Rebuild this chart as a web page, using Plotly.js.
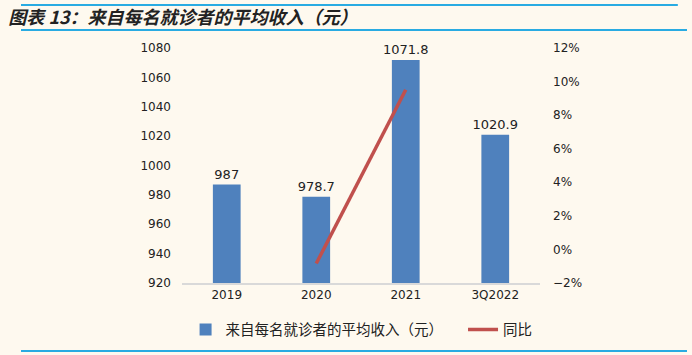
<!DOCTYPE html>
<html>
<head>
<meta charset="utf-8">
<script src="https://cdn.plot.ly/plotly-3.0.1.min.js"></script>
<style>
html,body{margin:0;padding:0;background:#fef9ef;}
#chart{width:692px;height:355px;}
</style>
</head>
<body>
<div id="chart"></div>
<script>
var categories = ['2019', '2020', '2021', '3Q2022'];
var revenuePerVisit = [987, 978.7, 1071.8, 1020.9];
var revenueLabels = ['987', '978.7', '1071.8', '1020.9'];
var yoyGrowth = [null, -0.0084, 0.0951, null];
var barName = '来自每名就诊者的平均收入（元）';
var lineName = '同比';
var titleText = '图表 13：来自每名就诊者的平均收入（元）';

var cjk = '"Noto Sans CJK SC", "DejaVu Sans", sans-serif';
var num = '"DejaVu Sans", "Liberation Sans", sans-serif';

var traces = [
  {
    type: 'bar', name: barName, x: categories, y: revenuePerVisit,
    text: revenueLabels, textposition: 'outside', cliponaxis: false, constraintext: 'none',
    textfont: {family: num, size: 13, color: '#222'},
    marker: {color: '#4f81bd'}, yaxis: 'y', hoverinfo: 'x+y', legend: 'legend'
  },
  {
    type: 'scatter', mode: 'lines', name: lineName, x: categories, y: yoyGrowth,
    line: {color: '#c0504d', width: 3.5}, yaxis: 'y2', connectgaps: false, legend: 'legend2'
  }
];

var lineColor = '#29abe2';
var legendCommon = {
  orientation: 'h', xref: 'paper', xanchor: 'left',
  yref: 'paper', y: -0.13, yanchor: 'top',
  font: {family: cjk, size: 14.5, color: '#222'},
  bgcolor: 'rgba(0,0,0,0)', itemwidth: 30
};
var layout = {
  width: 692, height: 355,
  paper_bgcolor: '#fef9ef', plot_bgcolor: '#fef9ef',
  margin: {l: 182, r: 152, t: 48, b: 72, autoexpand: false},
  bargap: 0.69,
  showlegend: true,
  title: {
    text: '<b><i>' + titleText + '</i></b>',
    font: {family: cjk, size: 18, color: '#222'},
    xref: 'container', yref: 'container', x: 0.012, xanchor: 'left', y: 0.95, yanchor: 'middle'
  },
  legend: Object.assign({}, legendCommon, {x: 0.01}),
  legend2: Object.assign({}, legendCommon, {x: 0.785}),
  xaxis: {
    type: 'category', showgrid: false, zeroline: false,
    showline: true, linecolor: '#d9d9d9', linewidth: 1.5,
    ticks: '', tickfont: {family: num, size: 12, color: '#222'},
    range: [-0.5, 3.5]
  },
  yaxis: {
    range: [920, 1080], dtick: 20, showgrid: false, zeroline: false,
    showline: false, ticks: '', ticklabelstandoff: 10,
    tickfont: {family: num, size: 12, color: '#222'}
  },
  yaxis2: {
    overlaying: 'y', side: 'right', range: [-0.02, 0.12], dtick: 0.02,
    tickformat: '.0%', showgrid: false, zeroline: false, showline: false,
    ticks: '', ticklabelstandoff: 12,
    tickfont: {family: num, size: 12, color: '#222'}
  },
  shapes: [
    {type: 'line', xref: 'paper', yref: 'paper', x0: -0.4497, x1: 1.385, y0: 1.183, y1: 1.183, line: {color: lineColor, width: 2}},
    {type: 'line', xref: 'paper', yref: 'paper', x0: -0.4497, x1: 1.4106, y0: 1.0766, y1: 1.0766, line: {color: lineColor, width: 2}},
    {type: 'line', xref: 'paper', yref: 'paper', x0: -0.4497, x1: 1.4106, y0: -0.2894, y1: -0.2894, line: {color: lineColor, width: 2}}
  ]
};

Plotly.newPlot('chart', traces, layout, {displayModeBar: false, staticPlot: true});
</script>
</body>
</html>
